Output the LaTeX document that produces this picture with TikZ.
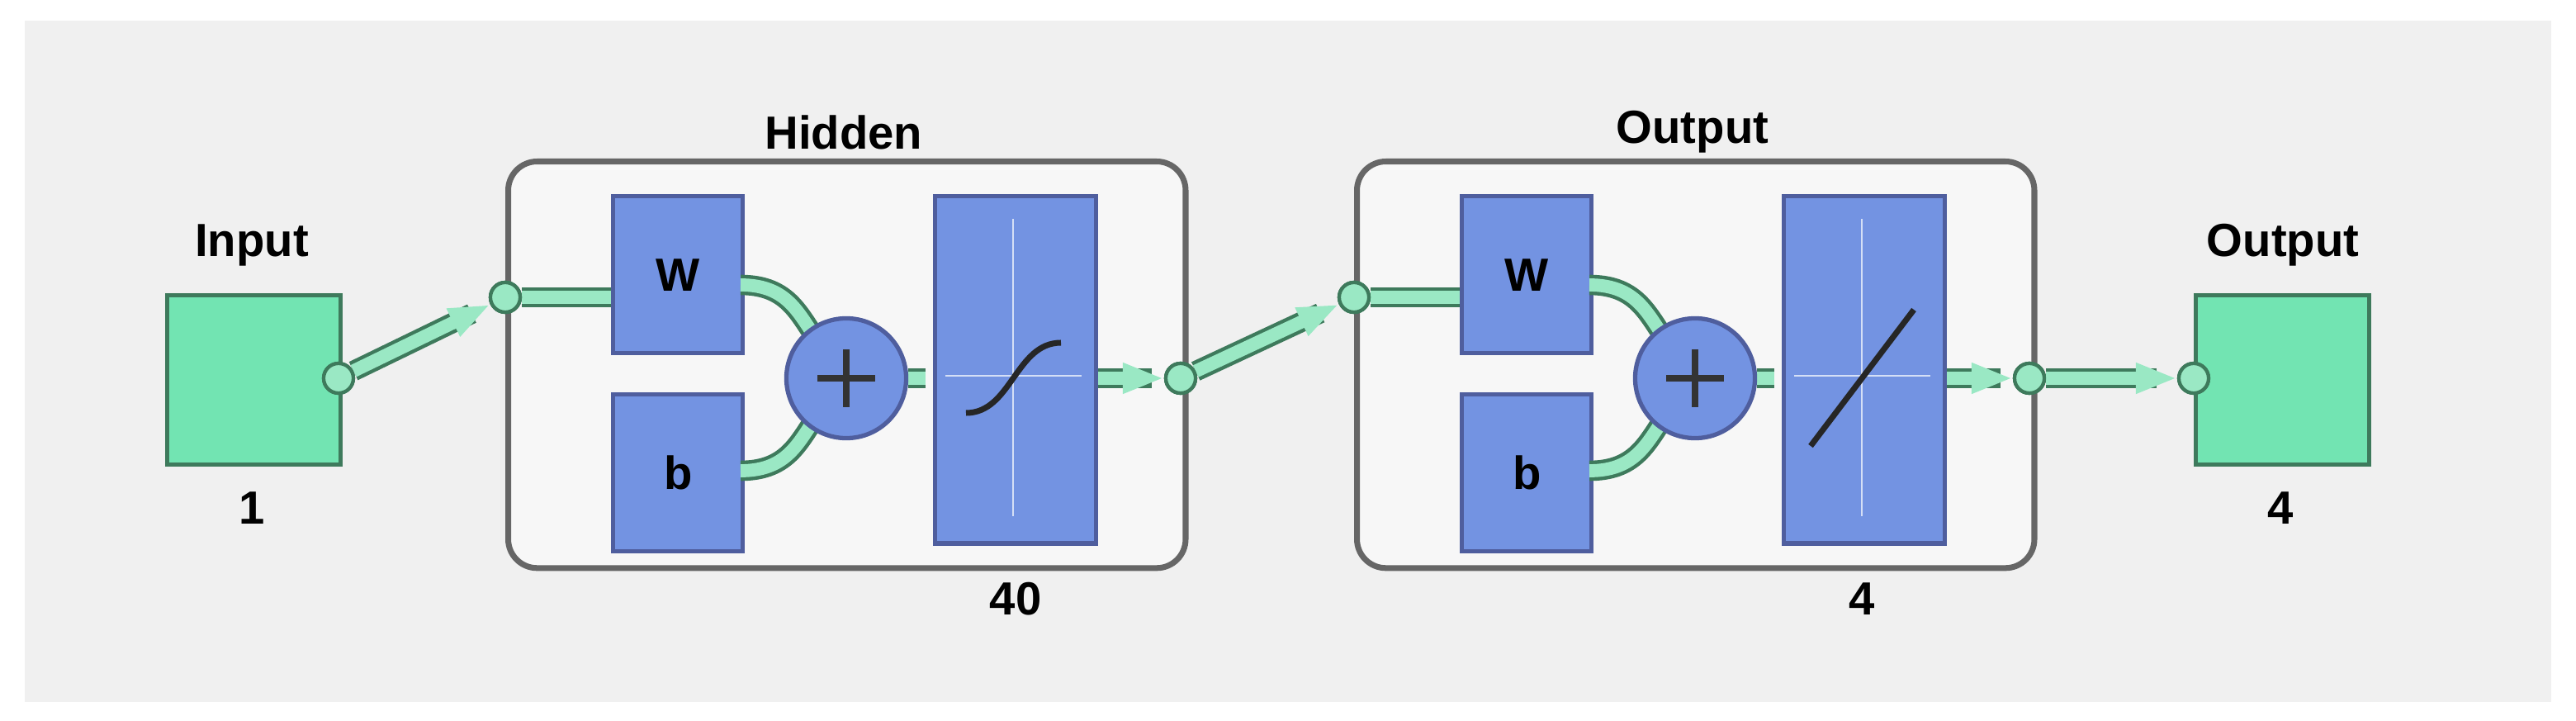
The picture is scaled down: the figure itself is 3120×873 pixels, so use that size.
\documentclass[tikz,border=0pt]{standalone}
\usepackage{fontspec}
\setmainfont{Liberation Sans}
\usetikzlibrary{arrows.meta}
\definecolor{gfill}{HTML}{72E4B2}
\definecolor{gdark}{HTML}{3E7A5C}
\definecolor{glight}{HTML}{9AE8C4}
\definecolor{bfill}{HTML}{7393E2}
\definecolor{bdark}{HTML}{4F5E9E}
\definecolor{panel}{HTML}{F0F0F0}
\definecolor{layerbg}{HTML}{F7F7F7}
\tikzset{
 lbl/.style={font=\bfseries\fontsize{16}{18}\selectfont},
 gbox/.style={draw=gdark,line width=1.5pt,fill=gfill},
 bbox/.style={draw=bdark,line width=1.5pt,fill=bfill},
 port/.style={circle,draw=gdark,line width=1.2pt,fill=glight,minimum size=0.36cm,inner sep=0},
 layer/.style={draw=gray!80!black,line width=2pt,fill=layerbg,rounded corners=0.35cm},
 wire/.style={draw=gdark,line width=7pt},
 wirein/.style={draw=glight,line width=4.5pt},
 arr/.style={-{Triangle[length=0.5cm,width=0.34cm,fill=glight]}}
}
\begin{document}
\begin{tikzpicture}[x=0.01cm,y=-0.01cm]
\useasboundingbox (0,0) rectangle (3120,873);
\fill[white] (0,0) rectangle (3120,873);
\fill[panel] (30,25) rectangle (3090,850);
% Input
\node[gbox,minimum width=2.1cm,minimum height=2.05cm,anchor=north west] (inbox) at (200,355) {};
\node[lbl] (inlbl) at (305,297) {Input};
\node[lbl] (in1) at (305,615) {1};
% Layers
\foreach \dx/\nm/\num/\numx in {0/Hidden/40/1230, 1028/Output/4/2255}{
\begin{scope}[xshift=\dx*0.01cm]
\node[layer,minimum width=8.2cm,minimum height=4.92cm,anchor=north west] (L) at (612,192) {};
\node[lbl] at (1022,160) {\nm};
\node[lbl] at (\numx-\dx,725) {\num};
\end{scope}}
\foreach \dx/\act in {0/1,1028/2}{
\begin{scope}[xshift=\dx*0.01cm]
\node[port] (pin) at (612,360) {};
\node[bbox,minimum width=1.57cm,minimum height=1.9cm,anchor=north west] (W) at (740,235) {};
\node[bbox,minimum width=1.57cm,minimum height=1.9cm,anchor=north west] (B) at (740,475) {};
\node[lbl] at (W.center) {W};
\node[lbl] at (B.center) {b};
\draw[wire] (pin) -- (W.west|-pin); \draw[wirein] (pin) -- (W.west|-pin);
\draw[wire] (897,345) .. controls (950,345) and (965,375) .. (985,405);
\draw[wirein] (897,345) .. controls (950,345) and (965,375) .. (985,405);
\draw[wire] (897,570) .. controls (950,570) and (965,540) .. (985,510);
\draw[wirein] (897,570) .. controls (950,570) and (965,540) .. (985,510);
\draw[wire] (1100,458) -- (1121,458); \draw[wirein] (1100,458) -- (1121,458);
\node[circle,draw=bdark,line width=1.5pt,fill=bfill,minimum size=1.45cm] (S) at (1025,458) {};
\draw[line width=2.5pt,black!80] (990,458) -- (1060,458) (1025,423) -- (1025,493);
\node[bbox,minimum width=1.95cm,minimum height=4.2cm,anchor=north west] (A) at (1130,235) {};
\draw[white!70!bfill,line width=0.8pt] (1227,265) -- (1227,625) (1145,455) -- (1310,455);
\ifnum\act=1
\draw[line width=2pt,black!85] (1170,500) .. controls (1225,500) and (1230,415) .. (1285,415);
\else
\draw[line width=2pt,black!85] (1165,540) -- (1290,375);
\fi
\node[port] (pout) at (1430,458) {};
\draw[wire] (A.east|-pout) -- (1395,458);
\draw[wirein,arr] (A.east|-pout) -- (pout.west);
\end{scope}}
% connections between
\node[port] (inport) at (410,458) {};
\node[port] (h1) at (612,360) {};
\node[port] (h2) at (1430,458) {};
\node[port] (o1) at (1640,360) {};
\node[port] (o2) at (2458,458) {};
\node[gbox,minimum width=2.1cm,minimum height=2.05cm,anchor=north west] (outbox) at (2657,355) {};
\node[port] (outport) at (2657,458) {};
\node[lbl] (outlbl) at (2765,297) {Output};
\node[lbl] (out4) at (2762,615) {4};
\draw[wire,shorten >=0.25cm] (inport) -- (h1); \draw[wirein,arr] (inport) -- (h1);
\draw[wire,shorten >=0.25cm] (h2) -- (o1); \draw[wirein,arr] (h2) -- (o1);
\draw[wire,shorten >=0.25cm] (o2) -- (outport); \draw[wirein,arr] (o2) -- (outport);
\node[port] at (inport) {};\node[port] at (h1) {};\node[port] at (h2) {};
\node[port] at (o1) {};\node[port] at (o2) {};\node[port] at (outport) {};
\end{tikzpicture}
\end{document}
